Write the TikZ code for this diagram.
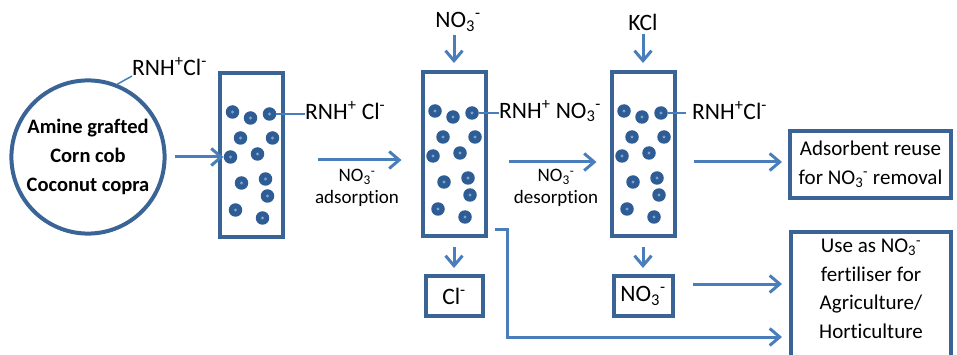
\documentclass[tikz,border=0pt]{standalone}
\usepackage{fontspec}
\setmainfont{Carlito}[Ligatures=NoCommon]
\usetikzlibrary{arrows.meta}

\definecolor{boxblue}{HTML}{3A6396}
\definecolor{flowblue}{HTML}{4A7EBB}
\definecolor{beadblue}{HTML}{2E5C94}
\definecolor{beadspot}{HTML}{7FA2CF}

\newcommand{\nitrate}{NO\textsubscript{3}\textsuperscript{-}}

\tikzset{
  big/.style={font=\fontsize{23.5}{27}\selectfont},
  small/.style={font=\fontsize{19}{22}\selectfont, align=center},
  column/.style={draw=boxblue, line width=4pt, minimum width=63pt, minimum height=164pt, inner sep=0pt},
  sorbent/.style={circle, draw=boxblue, line width=4pt, minimum size=149pt, align=center,
    font=\bfseries\fontsize{20.5}{29}\selectfont},
  outbox/.style={draw=boxblue, line width=4pt, align=center, font=\fontsize{21}{28.5}\selectfont},
  bead/.style={circle, fill=beadblue, minimum size=13.5pt, inner sep=0pt,
    path picture={\fill[beadspot] (path picture bounding box.center) circle (1.6pt);}},
  flow/.style={draw=flowblue, line width=3pt, -{Straight Barb[length=10pt,width=17pt]}},
  tag/.style={draw=flowblue, line width=1.5pt},
}

\begin{document}
\begin{tikzpicture}[x=1pt, y=-1pt]
    \useasboundingbox (0,0) rectangle (957,355);
    \clip (0,0) rectangle (957,355);

    % adsorbent
    \node [sorbent] (sorb) at (88,157) {Amine grafted\\Corn cob\\Coconut copra};
    \node [big, anchor=base west, inner sep=0pt] (lab0) at (132,76) {RNH\textsuperscript{+}Cl\textsuperscript{-}};
    \draw [tag] (sorb.68) -- (lab0.base west);

    % columns
    \node [column] (col1) at (251.5,155) {};
    \node [column] (col2) at (454,154) {};
    \node [column] (col3) at (643,154) {};

    \foreach \c in {col1,col2,col3} {
      \begin{scope}[shift={(\c.center)}]
        \foreach \dx/\dy [count=\i] in {-19/-43, -1/-37, 18/-41, -11/-17, 21/-17, -21/2,
                                          6/-1, -10/28, 14/24, 16/41, -16/55, 11/63}
          \node [bead] (\c-\i) at (\dx,\dy) {};
      \end{scope}
    }

    \node [big, anchor=west, inner sep=0pt] (lab1) at (305,111) {RNH\textsuperscript{+} Cl\textsuperscript{-}};
    \draw [tag] (col1-3.east) -- (lab1.west |- col1-3.east);

    \node [big, anchor=west, inner sep=0pt] (lab2) at (499,111) {RNH\textsuperscript{+} \nitrate};
    \draw [tag] (col2-3.east) -- (lab2.west |- col2-3.east);

    \node [big, anchor=west, inner sep=0pt] (lab3) at (692,111) {RNH\textsuperscript{+}Cl\textsuperscript{-}};
    \draw [tag] (col3-3.east) -- ([xshift=-6pt]lab3.west |- col3-3.east);

    % feeds
    \node [big] (feed) at (458,22) {\nitrate};
    \draw [flow] (col2.north |- feed.south) -- ([yshift=7pt]col2.north);

    \node [big] (kcl) at (643,22) {KCl};
    \draw [flow] (col3.north |- kcl.south) -- ([yshift=7pt]col3.north);

    % main flow
    \draw [flow] ([xshift=8pt]sorb.east) -- (col1-6.west);

    \draw [flow, shorten >=19pt] ([xshift=33pt,yshift=-5pt]col1.east) coordinate (a0) -- (a0 -| col2.west);
    \node [small, anchor=north] (ads) at (357,166) {\nitrate\\adsorption};

    \draw [flow, shorten >=13pt] ([xshift=21pt,yshift=-8pt]col2.east) coordinate (d0) -- (d0 -| col3.west);
    \node [small, anchor=north] (des) at (556,166) {\nitrate\\desorption};

    % products
    \node [outbox, minimum width=161pt, minimum height=67pt] (reuse) at (870.5,164.5)
        {Adsorbent reuse\\for \nitrate{} removal};
    \node [outbox, anchor=north, minimum width=160pt, inner ysep=7pt] (use) at (871,230)
        {Use as \nitrate\\fertiliser for\\Agriculture/\\Horticulture\\~};

    \draw [flow, shorten >=6pt] ([xshift=17pt,yshift=-8pt]col3.east) coordinate (r0) -- (r0 -| reuse.west);

    \node [big, draw=boxblue, line width=4pt, minimum width=57pt, minimum height=40pt] (cl) at (454,296) {Cl\textsuperscript{-}};
    \draw [flow] ([yshift=-9pt]col2.south) -- ([yshift=6pt]cl.north);

    \node [big, draw=boxblue, line width=4pt, minimum width=59pt, minimum height=40pt] (nit) at (643,296) {\nitrate};
    \draw [flow] ([yshift=-9pt]col3.south) -- ([yshift=6pt]nit.north);

    \draw [flow, shorten >=7pt] ([xshift=18pt,yshift=12pt]nit.east) coordinate (n0) -- (n0 -| use.west);

    \coordinate (bend) at (507,337);
    \draw [flow, shorten >=7pt] ([xshift=7pt,yshift=9pt]col2.south east) -| (bend) -- (bend -| use.west);

\end{tikzpicture}
\end{document}
